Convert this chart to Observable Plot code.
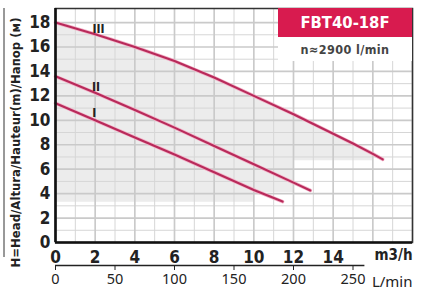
<!DOCTYPE html>
<html><head><meta charset="utf-8">
<script src="https://cdn.jsdelivr.net/npm/d3@7"></script>
<script src="https://cdn.jsdelivr.net/npm/@observablehq/plot@0.6"></script>
<style>
body{margin:0;background:#fff}
#wrap{position:relative;width:422px;height:290px;overflow:hidden}
.badge{position:absolute;left:278px;top:8px;width:134px;height:29px;background:#d81b4f;color:#fff;font:bold 16.5px "DejaVu Sans Condensed","DejaVu Sans",sans-serif;display:flex;align-items:center;justify-content:center}
.speed{position:absolute;left:278px;top:37px;width:134px;height:24px;background:#fff;color:#444;font:bold 12.5px "DejaVu Sans Condensed","DejaVu Sans",sans-serif;letter-spacing:0.4px;display:flex;align-items:center;justify-content:center}
</style></head><body><div id="wrap"></div>
<script>
// Curve III
const qIII = [0, 2, 4, 6, 8, 10, 12, 14, 15, 16, 16.5];
const hIII = [18, 17.05, 16.0, 14.85, 13.5, 12.0, 10.5, 8.9, 8.1, 7.25, 6.8];
// Curve II
const qII = [0, 2, 4, 6, 8, 10, 12, 12.85];
const hII = [13.6, 12.25, 10.85, 9.4, 7.9, 6.4, 4.9, 4.26];
// Curve I
const qI = [0, 2, 4, 6, 8, 10, 11.45];
const hI = [11.4, 10.0, 8.6, 7.2, 5.75, 4.3, 3.35];
// Shaded working region
const shadeQ = [0, 2, 4, 6, 8, 10, 10, 12, 12, 14, 15, 16];
const shadeTop = [18, 17.05, 16.0, 14.85, 13.5, 12.0, 12.0, 10.5, 10.5, 8.9, 8.1, 7.25];
const shadeBottom = [3.3, 3.3, 3.3, 3.3, 3.3, 3.3, 4.1, 4.1, 6.7, 6.7, 6.7, 6.7];
// Curve labels
const curveNames = ["III", "II", "I"];
const labelQ = [2.17, 2.04, 1.95];
const labelH = [17.5, 12.7, 10.6];
// Ticks
const yTicks = [0, 2, 4, 6, 8, 10, 12, 14, 16, 18];
const xTicks = [0, 2, 4, 6, 8, 10, 12, 14];
const lminTicks = [0, 50, 100, 150, 200, 250];
const gridX = d3.range(0, 19);
const gridY = d3.range(0, 19);
const title = "FBT40-18F";
const speed = "n≈2900 l/min";
const yTitle = "H=Head/Altura/Hauteur(m)/Напор (м)";

const toPts = (q, h) => q.map((d, i) => ({q: d, h: h[i]}));
const shade = shadeQ.map((d, i) => ({q: d, lo: shadeBottom[i], hi: shadeTop[i]}));
const labels = curveNames.map((d, i) => ({name: d, q: labelQ[i], h: labelH[i]}));
const curves = [toPts(qIII, hIII), toPts(qII, hII), toPts(qI, hI)];
const cond = "DejaVu Sans Condensed";
const lineColor = "#b82a5a";

const marks = [
  Plot.areaY(shade, {x: "q", y1: "lo", y2: "hi", fill: "#ececec"}),
  Plot.ruleX(gridX.filter(d => d % 2), {stroke: "#d6d6d6", strokeWidth: 1}),
  Plot.ruleY(gridY.filter(d => d % 2), {stroke: "#d6d6d6", strokeWidth: 1}),
  Plot.ruleX(gridX.filter(d => !(d % 2)), {stroke: "#cacaca", strokeWidth: 1.7}),
  Plot.ruleY(gridY.filter(d => !(d % 2)), {stroke: "#cacaca", strokeWidth: 1.7}),
];
for (const c of curves) {
  marks.push(Plot.line(c, {x: "q", y: "h", stroke: "#f2b3c8", strokeWidth: 3.6}));
  marks.push(Plot.line(c, {x: "q", y: "h", stroke: lineColor, strokeWidth: 2.1}));
}
marks.push(
  Plot.text(labels, {x: "q", y: "h", text: "name", fontWeight: "bold", fontSize: 12, fontFamily: cond, fill: "#222"}),
  Plot.frame({stroke: "#333", strokeWidth: 1.5}),
  Plot.ruleX([0], {stroke: "#111", strokeWidth: 2.6}),
  Plot.ruleY([0], {stroke: "#111", strokeWidth: 2.6}),
  Plot.axisY(yTicks, {tickSize: 0, tickPadding: 5, fontSize: 17, fontWeight: "bold", fontFamily: cond, fill: "#222", label: null}),
  Plot.axisX(xTicks, {tickSize: 0, tickPadding: 8, fontSize: 17, fontWeight: "bold", fontFamily: cond, fill: "#222", label: null}),
  Plot.text(["m3/h"], {frameAnchor: "bottom-right", dy: 13, textAnchor: "end", lineAnchor: "middle", fontSize: 15, fontWeight: "bold", fontFamily: cond, fill: "#222"}),
  Plot.ruleY([0], {x1: 0, x2: 260 * 0.06, dy: 23, stroke: "#222", strokeWidth: 1.3}),
  Plot.axisX(lminTicks.map(v => v * 0.06), {tickFormat: d => Math.round(d / 0.06), tickSize: 5, tickPadding: 3, dy: 23, fontSize: 14.5, fontFamily: "Noto Sans", fill: "#222", stroke: "#222", label: null}),
  Plot.text(["L/min"], {frameAnchor: "bottom-right", dy: 40, textAnchor: "end", lineAnchor: "middle", fontSize: 15, fontFamily: "Noto Sans", fill: "#222"}),
  Plot.text([yTitle], {frameAnchor: "left", textAnchor: "middle", lineAnchor: "middle", rotate: -90, dx: -40, dy: 17, fontWeight: "bold", fontSize: 13, fontFamily: cond, fill: "#222"})
);

const chart = Plot.plot({
  width: 422, height: 290,
  marginLeft: 55, marginRight: 10, marginTop: 8, marginBottom: 48,
  x: {domain: [0, 18]},
  y: {domain: [0, 19.15]},
  style: {background: "#fff", overflow: "visible"},
  marks
});
const wrap = document.getElementById("wrap");
wrap.appendChild(chart);
d3.select(chart).append("line").attr("x1", 4).attr("x2", 4).attr("y1", 8).attr("y2", 257).attr("stroke", "#333").attr("stroke-width", 1);
const b = document.createElement("div"); b.className = "badge"; b.textContent = title; wrap.appendChild(b);
const s = document.createElement("div"); s.className = "speed"; s.textContent = speed; wrap.appendChild(s);
</script></body></html>
